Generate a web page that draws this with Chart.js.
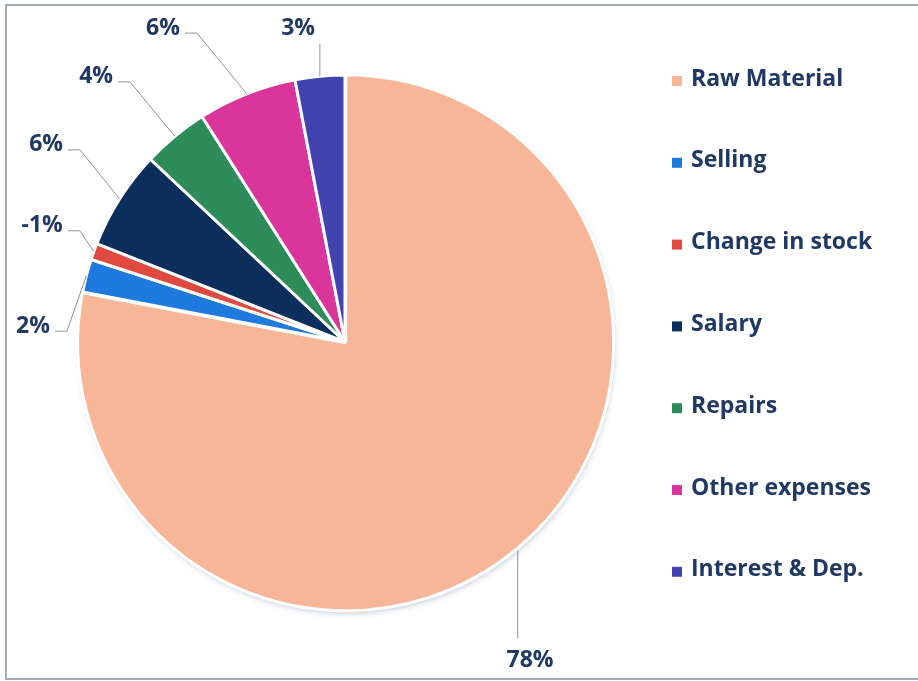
<!DOCTYPE html>
<html>
<head>
<meta charset="utf-8">
<title>Cost breakup</title>
<script src="https://cdn.jsdelivr.net/npm/chart.js@4.4.1/dist/chart.umd.min.js"></script>
<style>
  html, body { margin: 0; padding: 0; background: #fff; }
  #wrap { width: 918px; height: 681px; position: relative; }
</style>
</head>
<body>
<div id="wrap"><canvas id="costPie" width="918" height="681"></canvas></div>
<script>
const categories = ["Raw Material", "Selling", "Change in stock", "Salary", "Repairs", "Other expenses", "Interest & Dep."];
const shares = [78, 2, -1, 6, 4, 6, 3];
const colors = ["#f8b698", "#1f7ae0", "#e0493f", "#0b2e5c", "#2e8c5b", "#d9359a", "#4343b0"];

// where each value label sits: [turn from slice middle in degrees, distance in radii]
const labelSpots = [[9.4, 1.378], [-11.5, 1.17], [1.2, 1.215], [1.0, 1.341], [-3.6, 1.362], [-8.5, 1.359], [-3.1, 1.189]];

const textColor = "#1f3864";
const font = "bold 23px 'Open Sans'";

const frame = {
  id: "frame",
  beforeDraw(chart) {
    const ctx = chart.ctx;
    ctx.save();
    ctx.fillStyle = "#fff";
    ctx.fillRect(0, 0, chart.width, chart.height);
    ctx.strokeStyle = "#a3acb6";
    ctx.lineWidth = 2;
    ctx.strokeRect(6, 5, chart.width + 4, chart.height - 7);
    ctx.restore();
  }
};

// soft drop shadow under the whole pie
const pieShadow = {
  id: "pieShadow",
  beforeDatasetsDraw(chart) {
    const arc = chart.getDatasetMeta(0).data[0];
    if (!arc) return;
    const { x, y, outerRadius } = arc.getProps(["x", "y", "outerRadius"], true);
    const ctx = chart.ctx;
    ctx.save();
    ctx.shadowColor = "rgba(70, 95, 130, 0.35)";
    ctx.shadowBlur = 6;
    ctx.shadowOffsetX = 1;
    ctx.shadowOffsetY = 3;
    ctx.fillStyle = "#fff";
    ctx.beginPath();
    ctx.arc(x + 1, y + 1, outerRadius, 0, Math.PI * 2);
    ctx.fill();
    ctx.restore();
  }
};

const sideLegend = {
  id: "sideLegend",
  afterDraw(chart) {
    const ctx = chart.ctx;
    ctx.save();
    ctx.font = font;
    ctx.textBaseline = "middle";
    categories.forEach((name, i) => {
      const y = 79 + i * 81.8;
      ctx.fillStyle = colors[i];
      ctx.fillRect(672, y - 3, 10, 10);
      ctx.fillStyle = textColor;
      ctx.fillText(name, 691, y);
    });
    ctx.restore();
  }
};

const leaderLabels = {
  id: "leaderLabels",
  afterDatasetsDraw(chart) {
    const ctx = chart.ctx;
    const meta = chart.getDatasetMeta(0);
    ctx.save();
    ctx.font = font;
    ctx.textAlign = "center";
    ctx.textBaseline = "middle";
    meta.data.forEach((arc, i) => {
      const { x, y, startAngle, endAngle, outerRadius } = arc.getProps(["x", "y", "startAngle", "endAngle", "outerRadius"], true);
      const mid = (startAngle + endAngle) / 2;
      const off = arc.options.offset || 0;
      const px = x + Math.cos(mid) * (outerRadius + off);
      const py = y + Math.sin(mid) * (outerRadius + off);

      const [turn, dist] = labelSpots[i];
      const a = mid + turn * Math.PI / 180;
      const lx = x + Math.cos(a) * outerRadius * dist;
      const ly = y + Math.sin(a) * outerRadius * dist;
      const text = shares[i] + "%";
      const w = ctx.measureText(text).width;

      ctx.strokeStyle = "#8e9399";
      ctx.lineWidth = 1;
      ctx.beginPath();
      ctx.moveTo(px, py);
      if (px > lx - w / 2 - 6 && px < lx + w / 2 + 14) {
        ctx.lineTo(px, py < ly ? ly - 22 : ly + 16);
      } else {
        const dir = px > lx ? 1 : -1;
        const sx = lx + dir * (w / 2 + 5);
        const sy = ly + 5;
        ctx.lineTo(sx + dir * 12, sy);
        ctx.lineTo(sx, sy);
      }
      ctx.stroke();

      ctx.fillStyle = textColor;
      ctx.fillText(text, lx, ly);
    });
    ctx.restore();
  }
};

new Chart(document.getElementById("costPie"), {
  type: "pie",
  data: {
    labels: categories,
    datasets: [{
      data: shares,
      backgroundColor: colors,
      borderColor: "#fff",
      borderWidth: 3,
      offset: [4, 0, 0, 0, 0, 0, 0]
    }]
  },
  options: {
    responsive: false,
    animation: false,
    radius: 267,
    layout: { padding: { left: 78, right: 306, top: 75, bottom: 72 } },
    plugins: {
      legend: { display: false },
      tooltip: { enabled: false }
    }
  },
  plugins: [frame, pieShadow, leaderLabels, sideLegend]
});
</script>
</body>
</html>
